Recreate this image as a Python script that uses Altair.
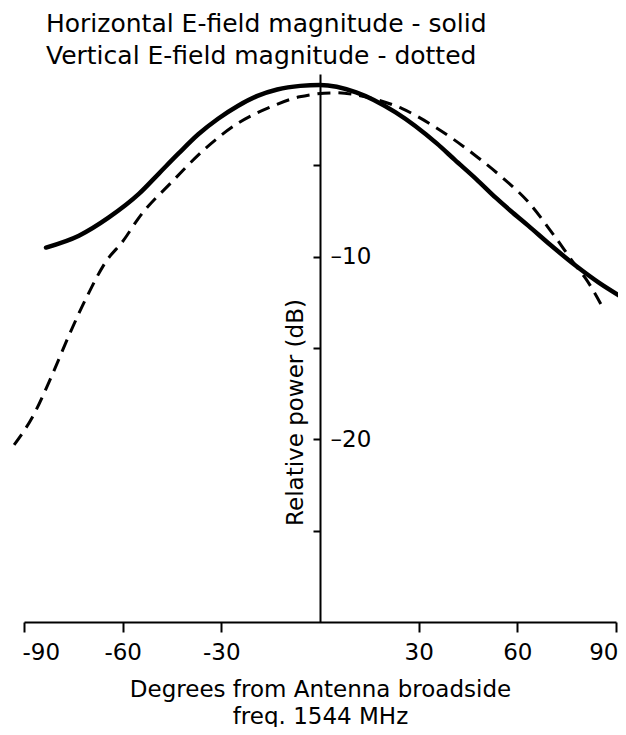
import altair as alt
import pandas as pd

# Horizontal E-field (solid)
h_deg = [-83.3, -73.3, -64.2, -55.0, -49.0, -43.0, -37.0, -31.0, -25.0, -19.0, -13.0, -6.0, 0.0, 11.0, 23.0, 35.5, 41.0, 47.5, 53.6, 58.0, 63.3, 70.0, 77.8, 85.0, 91.6]
h_db = [-9.5, -8.85, -7.85, -6.55, -5.45, -4.35, -3.3, -2.45, -1.75, -1.2, -0.85, -0.65, -0.6, -1.0, -2.1, -3.8, -4.7, -5.75, -6.8, -7.5, -8.3, -9.35, -10.5, -11.45, -12.2]

# Vertical E-field (dotted)
v_deg = [-93.0, -87.5, -81.5, -76.3, -70.9, -65.2, -59.7, -55.2, -45.0, -35.0, -25.0, -15.0, -6.2, 4.6, 15.0, 25.0, 35.0, 47.5, 55.0, 63.3, 70.8, 77.8, 80.8, 86.3]
v_db = [-20.3, -18.8, -16.5, -14.3, -12.2, -10.3, -9.1, -7.9, -5.9, -4.1, -2.7, -1.8, -1.25, -1.03, -1.3, -1.9, -2.9, -4.5, -5.6, -7.0, -8.75, -10.5, -11.2, -12.9]

x_ticks = [-90, -60, -30, 30, 60, 90]
y_ticks = [-25, -20, -15, -10, -5]

title_lines = ["Horizontal E-field magnitude - solid", "Vertical E-field magnitude - dotted"]
x_title = ["Degrees from Antenna broadside", "freq. 1544 MHz"]
y_title = "Relative power (dB)"

FONT = "DejaVu Sans"
FS = 23

h_df = pd.DataFrame({"deg": h_deg, "db": h_db})
v_df = pd.DataFrame({"deg": v_deg, "db": v_db})

x_enc = alt.X(
    "deg:Q",
    scale=alt.Scale(domain=[-90, 90], nice=False, zero=False),
    axis=alt.Axis(
        values=x_ticks,
        title=x_title,
        labelExpr="datum.value < 0 ? '-' + abs(datum.value) : '' + datum.value",
        labelFlush=True,
        labelFlushOffset=2,
        tickSize=10,
        labelPadding=9,
        titlePadding=14,
        titleLineHeight=27,
        grid=False,
    ),
)

y_enc = alt.Y(
    "db:Q",
    scale=alt.Scale(domain=[-30, 0], nice=False, zero=False),
    axis=alt.Axis(
        values=y_ticks,
        offset=-296,
        tickSize=7,
        labelAlign="left",
        labelPadding=-17,
        labelBaseline="middle",
        labelExpr="datum.value == -10 || datum.value == -20 ? '\u2013' + abs(datum.value) : ''",
        title=y_title,
        titleX=-25,
        titleY=338,
        titleAngle=270,
        titleAlign="center",
        titleBaseline="middle",
        grid=False,
    ),
)

solid = alt.Chart(h_df).mark_line(
    color="black", strokeWidth=4.5, interpolate="monotone", strokeCap="round"
).encode(x=x_enc, y=y_enc)

dashed = alt.Chart(v_df).mark_line(
    color="black", strokeWidth=3, interpolate="monotone", strokeDash=[13, 8]
).encode(x="deg:Q", y="db:Q")

chart = (
    alt.layer(solid, dashed)
    .properties(
        width=592,
        height=548,
        autosize=alt.AutoSizeParams(type="none"),
        padding={"left": 16, "top": 66, "right": 2, "bottom": 105},
        title=alt.TitleParams(
            text=title_lines,
            anchor="start",
            frame="group",
            dx=22,
            offset=5,
            fontSize=25,
            fontWeight="normal",
            font=FONT,
            color="black",
            lineHeight=32,
        ),
        background="white",
    )
    .configure_view(stroke=None)
    .configure_axis(
        domainColor="black",
        domainWidth=2,
        tickColor="black",
        tickWidth=2,
        labelColor="black",
        titleColor="black",
        labelFont=FONT,
        titleFont=FONT,
        labelFontSize=FS,
        titleFontSize=FS,
        titleFontWeight="normal",
    )
)

chart.save("out.html", embed_options={"renderer": "svg", "actions": False})
